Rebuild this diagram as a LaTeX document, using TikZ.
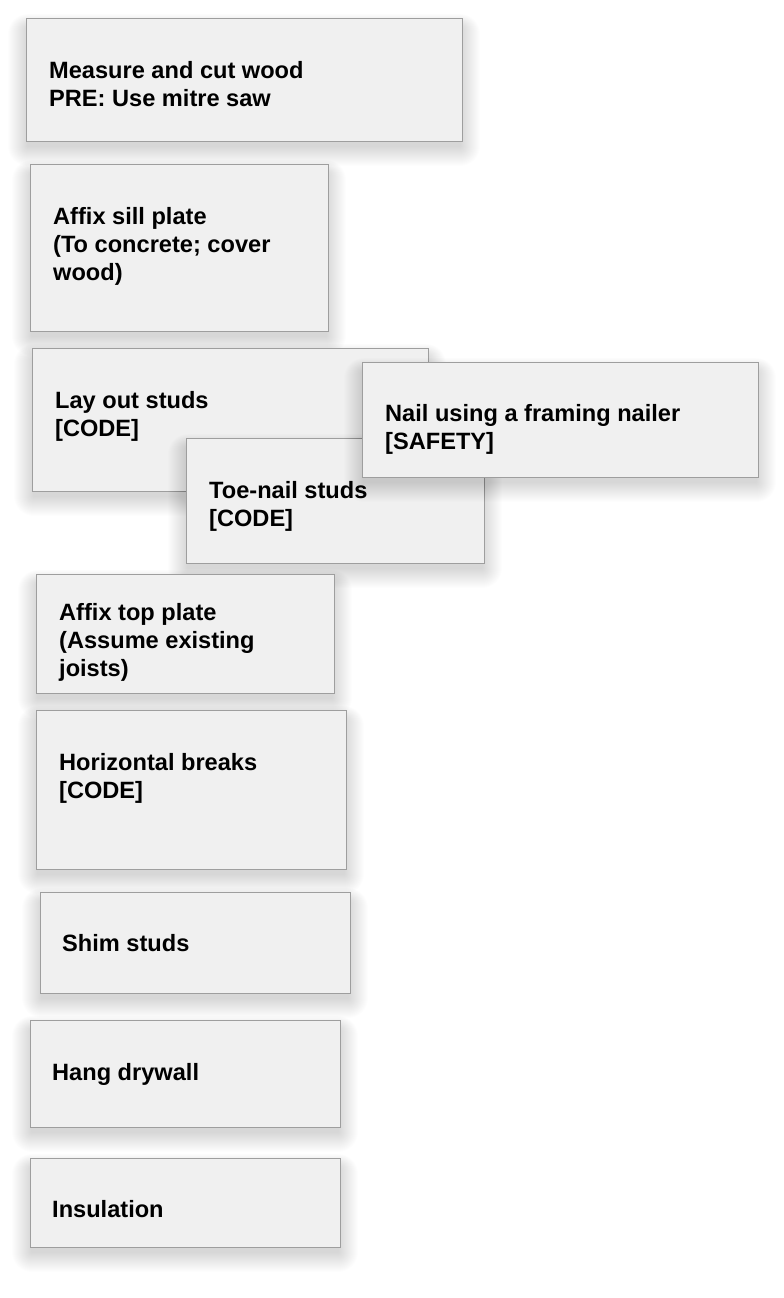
\documentclass[tikz,border=0pt]{standalone}
\usepackage{fontspec}
\setmainfont{Liberation Sans}
\newcommand\steplines[1]{\begin{tabular}[t]{@{}l@{}}#1\end{tabular}}
\tikzset{
  stepbox/.style={draw=black!38, line width=0.8bp, fill=black!6, anchor=north west, inner sep=0pt},
  steptext/.style={anchor=base west, inner sep=0pt, font=\fontsize{23.6bp}{28bp}\selectfont\bfseries},
  stepshadow/.style={fill=black, fill opacity=0.0095}
}
% name, left, top, width, height, text indent, first baseline, text
\newcommand\stepitem[8]{%
  \foreach \i [evaluate=\i as \s using 1.0*\i] in {1,...,20}
    \fill[stepshadow, rounded corners=\s] (#2+2-\s,#3+10-0.7*\s) rectangle (#2+#4-2+\s,#3+#5+5+\s);
  \node[stepbox, minimum width=#4bp, minimum height=#5bp] (b#1) at (#2,#3) {};
  \node[steptext] (t#1) at (#2+#6,#7) {\steplines{#8}};
}
\begin{document}
\begin{tikzpicture}[x=1bp, y=-1bp]
\useasboundingbox (0,0) rectangle (784,1298);
\stepitem{1}{26}{18}{436}{123}{23}{78}{Measure and cut wood\\PRE: Use mitre saw}
\stepitem{2}{30}{164}{298}{167}{23}{224}{Affix sill plate\\(To concrete; cover\\wood)}
\stepitem{3}{32}{348}{396}{143}{23}{408}{Lay out studs\\{}[CODE]}
\stepitem{4}{186}{438}{298}{125}{23}{498}{Toe-nail studs\\{}[CODE]}
\stepitem{5}{362}{362}{396}{115}{23}{421}{Nail using a framing nailer\\{}[SAFETY]}
\stepitem{6}{36}{574}{298}{119}{23}{620}{Affix top plate\\(Assume existing\\joists)}
\stepitem{7}{36}{710}{310}{159}{23}{770}{Horizontal breaks\\{}[CODE]}
\stepitem{8}{40}{892}{310}{101}{22}{951}{Shim studs}
\stepitem{9}{30}{1020}{310}{107}{22}{1080}{Hang drywall}
\stepitem{10}{30}{1158}{310}{89}{22}{1217}{Insulation}
\end{tikzpicture}
\end{document}
